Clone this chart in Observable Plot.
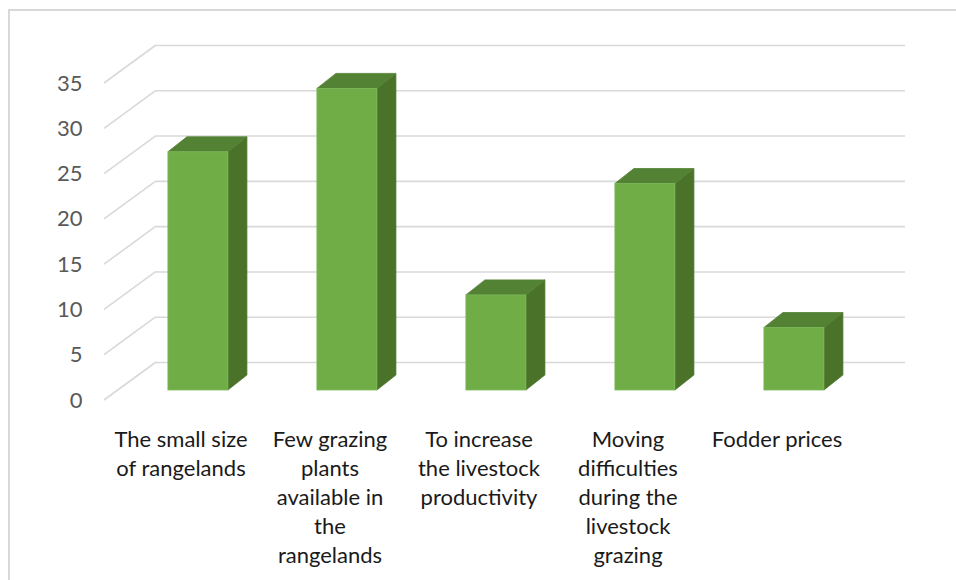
<!DOCTYPE html>
<html>
<head>
<meta charset="utf-8">
<script src="https://cdn.jsdelivr.net/npm/d3@7"></script>
<script src="https://cdn.jsdelivr.net/npm/@observablehq/plot@0.6"></script>
<style>
  html, body { margin: 0; padding: 0; background: #fff; }
  body { width: 956px; height: 580px; position: relative; overflow: hidden; }
  #frame { position: absolute; left: 8px; top: 9px; width: 1000px; height: 1000px; border: 2px solid #d9d9d9; box-sizing: border-box; }
  #chart { position: absolute; left: 0; top: 0; }
</style>
</head>
<body>
<div id="frame"></div>
<div id="chart"></div>
<script>
const categories = [
  "The small size of rangelands",
  "Few grazing plants available in the rangelands",
  "To increase the livestock productivity",
  "Moving difficulties during the livestock grazing",
  "Fodder prices"
];
const values = [26.3, 33.3, 10.5, 22.8, 6.9];
const categoryLabels = [
  "The small size\nof rangelands",
  "Few grazing\nplants\navailable in\nthe\nrangelands",
  "To increase\nthe livestock\nproductivity",
  "Moving\ndifficulties\nduring the\nlivestock\ngrazing",
  "Fodder prices"
];
const yTicks = [0, 5, 10, 15, 20, 25, 30, 35];

const data = categories.map((c, i) => ({cat: c, value: values[i], label: categoryLabels[i]}));

// 3D styling constants (pixels)
const wallDx = 52, wallDy = -38;      // depth of the back wall
const barW = 60, barDx = 17, barDy = -10; // front face of bars
const sideDx = 19, sideDy = -15;      // bar depth
const FRONT = "#70AD47", TOP = "#548235", SIDE = "#4A7229";
const GRID = "#d9d9d9";
const FONT = "Lato, 'Open Sans', sans-serif";

const chart = Plot.plot({
  width: 956,
  height: 580,
  marginLeft: 104,
  marginRight: 103,
  marginTop: 83,
  marginBottom: 180,
  style: {fontFamily: FONT, background: "transparent", overflow: "visible"},
  x: {type: "band", domain: categories, padding: 0, axis: null},
  y: {domain: [0, 35], axis: null},
  marks: [
    // back wall gridlines
    Plot.ruleY(yTicks, {y: d => d, stroke: GRID, strokeWidth: 1.6, dx: wallDx, dy: wallDy}),
    // side wall diagonals
    Plot.ruleY(yTicks, {
      y: d => d,
      render(index, scales, vals, dims) {
        const g = d3.create("svg:g");
        for (const i of index) {
          const y = vals.y[i];
          g.append("line")
            .attr("x1", dims.marginLeft).attr("y1", y)
            .attr("x2", dims.marginLeft + wallDx).attr("y2", y + wallDy)
            .attr("stroke", GRID).attr("stroke-width", 1.6);
        }
        return g.node();
      }
    }),
    // 3D bars
    Plot.barY(data, {
      x: "cat",
      y: "value",
      render(index, scales, vals, dims) {
        const g = d3.create("svg:g");
        const bw = (dims.width - dims.marginLeft - dims.marginRight) / categories.length;
        for (const i of index) {
          const left = vals.x[i] + (bw - barW) / 2 + barDx;
          const right = left + barW;
          const yb = Math.max(vals.y1[i], vals.y2[i]) + barDy;
          const yt = Math.min(vals.y1[i], vals.y2[i]) + barDy;
          g.append("polygon")
            .attr("points", [[right, yt], [right + sideDx, yt + sideDy], [right + sideDx, yb + sideDy], [right, yb]].join(" "))
            .attr("fill", SIDE).attr("stroke", SIDE).attr("stroke-width", 0.8);
          g.append("polygon")
            .attr("points", [[left, yt], [left + sideDx, yt + sideDy], [right + sideDx, yt + sideDy], [right, yt]].join(" "))
            .attr("fill", TOP).attr("stroke", TOP).attr("stroke-width", 0.8);
          g.append("rect")
            .attr("x", left).attr("y", yt).attr("width", barW).attr("height", yb - yt)
            .attr("fill", FRONT).attr("stroke", "#7cb95a").attr("stroke-width", 0.8);
        }
        return g.node();
      }
    }),
    // y tick labels
    Plot.text(yTicks, {
      y: d => d, text: d => String(d), frameAnchor: "left", textAnchor: "end",
      dx: -22, fill: "#595959", fontSize: 22
    }),
    // category labels
    Plot.text(data, {
      x: "cat", text: "label", frameAnchor: "bottom", lineAnchor: "top",
      dy: 26, lineHeight: 1.32, fontSize: 22, fill: "#1a1a1a"
    })
  ]
});
document.getElementById("chart").appendChild(chart);
</script>
</body>
</html>
